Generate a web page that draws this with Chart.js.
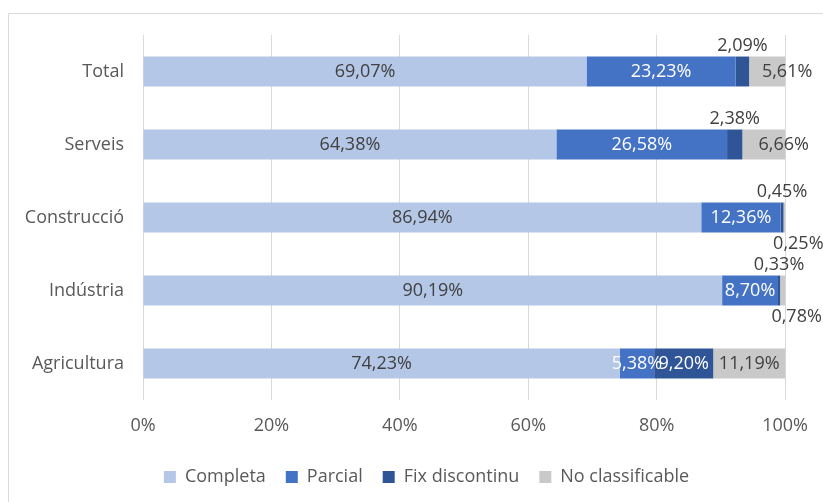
<!DOCTYPE html>
<html>
<head>
<meta charset="utf-8">
<script src="https://cdn.jsdelivr.net/npm/chart.js@4"></script>
<style>
  html, body { margin: 0; padding: 0; background: #fff; }
  #wrap { width: 823px; height: 502px; }
</style>
</head>
<body>
<div id="wrap"><canvas id="myChart" width="823" height="502"></canvas></div>
<script>
    // data
    var sectors = ['Total', 'Serveis', 'Construcció', 'Indústria', 'Agricultura'];
    var completa = [69.07, 64.38, 86.94, 90.19, 74.23];
    var parcial = [23.23, 26.58, 12.36, 8.70, 5.38];
    var fixDiscontinu = [2.09, 2.38, 0.45, 0.33, 9.20];
    var noClassificable = [5.61, 6.66, 0.25, 0.78, 11.19];
    var xTicks = [0, 20, 40, 60, 80, 100];

    var fontFam = "'Open Sans', 'Liberation Sans', sans-serif";
    var fontSize = 18;
    var textCol = '#595959';

    function fmt(v) {
        return v.toFixed(2).replace('.', ',') + '%';
    }

    // light frame round the chart, as in the original
    var framePlugin = {
        id: 'frame',
        beforeDraw: function(chart) {
            var c = chart.ctx;
            c.save();
            c.fillStyle = '#fff';
            c.fillRect(0, 0, chart.width, chart.height);
            c.strokeStyle = '#D9D9D9';
            c.lineWidth = 1;
            c.beginPath();
            c.moveTo(8.5, chart.height);
            c.lineTo(8.5, 13.5);
            c.lineTo(chart.width, 13.5);
            c.stroke();
            c.restore();
        }
    };

    // the legend sits a bit right of centre in the original
    var legendShift = {
        id: 'legendShift',
        afterLayout: function(chart) {
            if (chart.legend) {
                chart.legend.left += 32;
                chart.legend.right += 32;
            }
        }
    };

    // value labels on each segment
    var labelPlugin = {
        id: 'segLabels',
        afterDatasetsDraw: function(chart) {
            var c = chart.ctx;
            c.save();
            c.font = fontSize + 'px ' + fontFam;
            c.textAlign = 'center';
            c.textBaseline = 'middle';
            chart.data.datasets.forEach(function(ds, di) {
                var meta = chart.getDatasetMeta(di);
                meta.data.forEach(function(bar, i) {
                    var v = ds.data[i];
                    var x = (bar.x + bar.base) / 2;
                    var y = bar.y;
                    var col = (di === 1 || di === 2) ? '#fff' : '#404040';
                    if (di === 2 && v < 3) {
                        y = bar.y - bar.height / 2 - 11;
                        col = '#404040';
                    } else if (di === 3 && v < 1) {
                        y = bar.y + bar.height / 2 + 11;
                        x += 14;
                    } else if (di === 3 && v < 8) {
                        x += 20;
                    }
                    c.fillStyle = col;
                    c.fillText(fmt(v), x, y);
                });
            });
            c.restore();
        }
    };

    var ctx = document.getElementById('myChart');
    var myChart = new Chart(ctx, {
        type: 'bar',
        data: {
            labels: sectors,
            datasets: [{
                label: 'Completa',
                data: completa,
                backgroundColor: '#B4C7E7',
            }, {
                label: 'Parcial',
                data: parcial,
                backgroundColor: '#4472C4',
            }, {
                label: 'Fix discontinu',
                data: fixDiscontinu,
                backgroundColor: '#2F5597',
            }, {
                label: 'No classificable',
                data: noClassificable,
                backgroundColor: '#C9C9C9',
            }, ],
        },
        options: {
            indexAxis: 'y',
            responsive: false,
            animation: false,
            devicePixelRatio: 1,
            categoryPercentage: 1,
            barPercentage: 0.41,
            layout: {
                padding: { left: 0, right: 34, top: 35, bottom: 6 }
            },
            scales: {
                x: {
                    stacked: true,
                    min: 0,
                    max: 100,
                    afterBuildTicks: function(scale) {
                        scale.ticks = xTicks.map(function(v) { return { value: v }; });
                    },
                    afterFit: function(scale) { scale.height = 48; },
                    ticks: {
                        callback: function(v) { return v + '%'; },
                        color: textCol,
                        font: { family: fontFam, size: fontSize },
                        padding: 15,
                        maxRotation: 0,
                    },
                    grid: { color: '#D9D9D9', drawTicks: false },
                    border: { display: false },
                },
                y: {
                    stacked: true,
                    afterFit: function(scale) { scale.width = 143; },
                    ticks: {
                        color: textCol,
                        font: { family: fontFam, size: fontSize },
                        padding: 19,
                    },
                    grid: { display: false, drawTicks: false },
                    border: { display: false },
                },
            },
            plugins: {
                legend: {
                    position: 'bottom',
                    labels: {
                        boxWidth: 12,
                        boxHeight: 12,
                        padding: 20,
                        color: textCol,
                        font: { family: fontFam, size: fontSize },
                    }
                },
                tooltip: { enabled: false },
            }
        },
        plugins: [framePlugin, legendShift, labelPlugin]
    });
</script>
</body>
</html>
